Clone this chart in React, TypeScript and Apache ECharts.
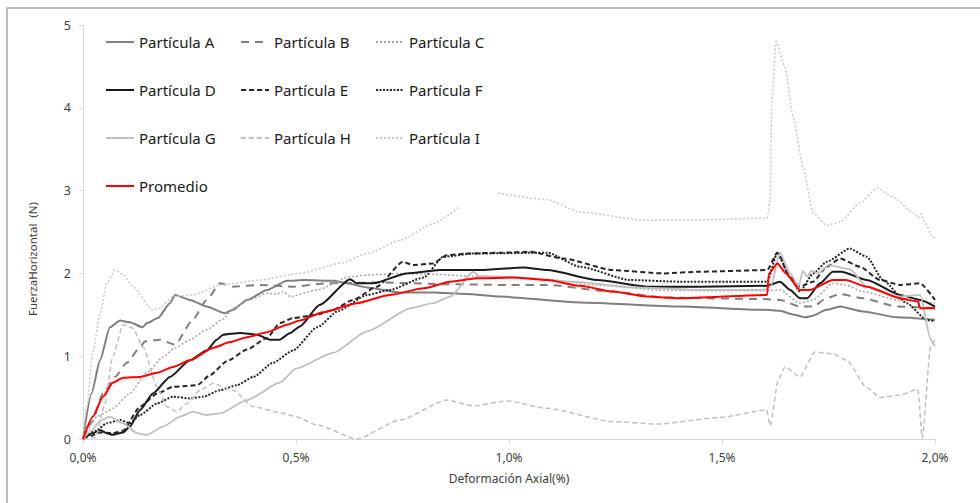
import React, { useEffect, useRef } from "react";
import * as echarts from "echarts";

type P = [number, number | null];

const xTicks = [0, 0.5, 1.0, 1.5, 2.0];
const yTicks = [0, 1, 2, 3, 4, 5];

const particulaA: P[] = [[0,0],[0.02,0.55],[0.04,0.95],[0.063,1.35],[0.087,1.43],[0.11,1.41],[0.14,1.35],[0.15,1.4],[0.176,1.46],[0.204,1.64],[0.216,1.74],[0.251,1.68],[0.29,1.6],[0.333,1.52],[0.352,1.56],[0.385,1.68],[0.432,1.8],[0.479,1.91],[0.52,1.92],[0.587,1.91],[0.62,1.88],[0.667,1.83],[0.744,1.77],[0.822,1.77],[0.9,1.75],[0.979,1.72],[1.167,1.65],[1.401,1.6],[1.6,1.56],[1.636,1.55],[1.67,1.5],[1.695,1.47],[1.714,1.49],[1.745,1.56],[1.777,1.6],[1.831,1.54],[1.911,1.47],[2.0,1.44]];
const particulaB: P[] = [[0,0],[0.02,0.2],[0.047,0.55],[0.075,0.75],[0.103,0.92],[0.134,1.11],[0.146,1.18],[0.18,1.2],[0.216,1.14],[0.258,1.44],[0.29,1.68],[0.322,1.88],[0.352,1.84],[0.415,1.86],[0.493,1.84],[0.572,1.88],[0.7,1.89],[0.85,1.87],[1.0,1.86],[1.09,1.86],[1.244,1.78],[1.362,1.71],[1.45,1.7],[1.596,1.69],[1.636,1.68],[1.683,1.6],[1.714,1.6],[1.745,1.7],[1.777,1.75],[1.831,1.7],[1.911,1.6],[2.0,1.58]];
const particulaC: P[] = [[0,0],[0.033,0.27],[0.056,0.33],[0.07,0.37],[0.11,0.55],[0.15,0.8],[0.188,0.99],[0.216,1.1],[0.251,1.2],[0.29,1.32],[0.33,1.45],[0.352,1.58],[0.392,1.68],[0.432,1.76],[0.455,1.75],[0.47,1.78],[0.486,1.72],[0.549,1.8],[0.627,1.96],[0.667,1.98],[0.744,2.0],[0.822,1.99],[0.9,1.97],[0.979,1.95],[1.09,1.93],[1.2,1.86],[1.35,1.8],[1.45,1.79],[1.6,1.79],[1.636,1.8],[1.683,1.64],[1.714,1.68],[1.76,1.88],[1.79,1.86],[1.831,1.78],[1.911,1.68],[2.0,1.64]];
const particulaD: P[] = [[0,0],[0.023,0.07],[0.04,0.11],[0.056,0.07],[0.07,0.05],[0.094,0.08],[0.11,0.15],[0.134,0.35],[0.164,0.55],[0.204,0.75],[0.251,0.95],[0.29,1.07],[0.314,1.2],[0.329,1.26],[0.369,1.28],[0.408,1.26],[0.439,1.2],[0.462,1.2],[0.486,1.28],[0.509,1.36],[0.556,1.62],[0.627,1.93],[0.643,1.88],[0.681,1.88],[0.76,2.0],[0.838,2.04],[0.932,2.04],[1.033,2.07],[1.09,2.04],[1.207,1.92],[1.323,1.84],[1.448,1.84],[1.606,1.85],[1.636,1.9],[1.66,1.8],[1.683,1.7],[1.7,1.7],[1.73,1.88],[1.76,2.02],[1.78,2.02],[1.84,1.92],[1.918,1.74],[1.965,1.68],[2.0,1.6]];
const particulaE: P[] = [[0,0],[0.02,0.04],[0.04,0.08],[0.07,0.07],[0.094,0.1],[0.134,0.39],[0.174,0.55],[0.211,0.63],[0.244,0.64],[0.268,0.65],[0.298,0.77],[0.338,0.94],[0.385,1.08],[0.432,1.22],[0.462,1.4],[0.493,1.46],[0.549,1.5],[0.587,1.56],[0.634,1.68],[0.69,1.84],[0.751,2.14],[0.775,2.1],[0.822,2.12],[0.854,2.22],[0.9,2.24],[0.979,2.25],[1.05,2.26],[1.127,2.18],[1.244,2.04],[1.362,2.0],[1.448,2.02],[1.606,2.04],[1.63,2.25],[1.66,1.95],[1.683,1.84],[1.714,1.9],[1.746,2.08],[1.777,2.18],[1.824,2.08],[1.871,1.92],[1.918,1.86],[1.965,1.88],[2.0,1.68]];
const particulaF: P[] = [[0,0],[0.03,0.1],[0.056,0.19],[0.087,0.23],[0.11,0.19],[0.134,0.29],[0.174,0.43],[0.211,0.51],[0.251,0.49],[0.282,0.51],[0.322,0.59],[0.361,0.65],[0.4,0.75],[0.446,0.92],[0.493,1.07],[0.55,1.35],[0.6,1.55],[0.667,1.74],[0.72,1.8],[0.8,1.95],[0.845,2.2],[0.916,2.24],[1.09,2.25],[1.167,2.08],[1.284,1.92],[1.401,1.9],[1.606,1.9],[1.63,2.25],[1.66,1.95],[1.683,1.78],[1.714,2.0],[1.746,2.14],[1.8,2.3],[1.84,2.2],[1.878,1.92],[1.934,1.64],[1.98,1.44],[2.0,1.42]];
const particulaG: P[] = [[0,0],[0.02,0.1],[0.04,0.22],[0.063,0.27],[0.094,0.19],[0.127,0.07],[0.15,0.05],[0.188,0.15],[0.228,0.27],[0.258,0.33],[0.29,0.29],[0.322,0.31],[0.385,0.47],[0.462,0.68],[0.5,0.85],[0.587,1.04],[0.667,1.3],[0.77,1.58],[0.822,1.64],[0.862,1.72],[0.916,2.02],[0.93,1.97],[1.03,1.95],[1.15,1.9],[1.3,1.83],[1.45,1.8],[1.6,1.8],[1.615,1.85],[1.636,2.25],[1.66,2.0],[1.68,1.85],[1.69,2.03],[1.7,1.96],[1.71,2.03],[1.725,2.0],[1.75,2.1],[1.8,2.05],[1.84,1.84],[1.918,1.72],[1.965,1.74],[1.99,1.2],[2.0,1.12]];
const particulaH: P[] = [[0,0],[0.03,0.02],[0.05,0.4],[0.07,1.0],[0.094,1.38],[0.117,1.34],[0.141,1.11],[0.174,0.63],[0.197,0.39],[0.22,0.33],[0.244,0.43],[0.275,0.59],[0.305,0.67],[0.352,0.59],[0.4,0.39],[0.47,0.31],[0.5,0.27],[0.549,0.17],[0.643,0.0],[0.744,0.23],[0.854,0.47],[0.916,0.4],[0.995,0.46],[1.09,0.37],[1.244,0.21],[1.347,0.18],[1.495,0.26],[1.605,0.35],[1.613,0.16],[1.632,0.71],[1.648,0.87],[1.683,0.75],[1.718,1.05],[1.76,1.03],[1.793,0.95],[1.84,0.62],[1.871,0.5],[1.918,0.53],[1.96,0.6],[1.97,0.01],[1.99,1.13],[2.0,1.2]];
const particulaI: P[] = [[0,0],[0.009,0.39],[0.023,1.04],[0.04,1.52],[0.056,1.88],[0.075,2.04],[0.095,1.98],[0.117,1.84],[0.162,1.56],[0.18,1.58],[0.211,1.72],[0.258,1.74],[0.322,1.86],[0.415,1.92],[0.509,2.0],[0.61,2.13],[0.667,2.24],[0.744,2.4],[0.822,2.6],[0.885,2.81],[0.93,null],[0.975,2.97],[1.09,2.89],[1.167,2.74],[1.323,2.64],[1.479,2.65],[1.606,2.67],[1.613,2.89],[1.617,4.1],[1.627,4.8],[1.648,4.49],[1.667,3.89],[1.69,3.29],[1.714,2.73],[1.746,2.58],[1.777,2.62],[1.824,2.85],[1.864,3.03],[1.902,2.92],[1.95,2.73],[1.962,2.67],[1.967,2.72],[1.975,2.62],[1.995,2.44],[2.0,2.43]];
const promedio: P[] = [[0,0],[0.023,0.27],[0.047,0.51],[0.07,0.68],[0.094,0.74],[0.134,0.75],[0.174,0.8],[0.211,0.87],[0.251,0.95],[0.305,1.1],[0.345,1.17],[0.385,1.23],[0.432,1.29],[0.479,1.38],[0.509,1.43],[0.563,1.53],[0.643,1.64],[0.72,1.74],[0.8,1.82],[0.862,1.9],[0.924,1.94],[1.01,1.95],[1.09,1.92],[1.167,1.85],[1.244,1.78],[1.323,1.72],[1.401,1.7],[1.606,1.74],[1.61,2.0],[1.63,2.12],[1.65,2.0],[1.683,1.8],[1.707,1.8],[1.76,1.92],[1.79,1.92],[1.84,1.84],[1.918,1.7],[1.96,1.66],[1.965,1.58],[2.0,1.58]];

const seriesNames = ["Partícula A","Partícula B","Partícula C","Partícula D","Partícula E","Partícula F","Partícula G","Partícula H","Partícula I","Promedio"];
const seriesData = [particulaA, particulaB, particulaC, particulaD, particulaE, particulaF, particulaG, particulaH, particulaI, promedio];

const styles: { color: string; width: number; type: any }[] = [
  { color: "#7f7f7f", width: 2, type: "solid" },
  { color: "#7f7f7f", width: 2, type: [8, 6] },
  { color: "#a6a6a6", width: 1.5, type: [2, 2] },
  { color: "#1a1a1a", width: 2, type: "solid" },
  { color: "#262626", width: 2, type: [5, 3] },
  { color: "#262626", width: 2, type: [2, 1.5] },
  { color: "#bfbfbf", width: 1.8, type: "solid" },
  { color: "#bfbfbf", width: 1.5, type: [5, 3] },
  { color: "#c8c8c8", width: 1.5, type: [2, 2] },
  { color: "#ff0000", width: 2, type: "solid" },
];

const FONT = "'Noto Sans', sans-serif";

export default function App() {
  const ref = useRef<HTMLDivElement>(null);
  useEffect(() => {
    document.body.style.margin = "0";
    const chart = echarts.init(ref.current!, null, { renderer: "svg" });
    const legendBase = {
      orient: "vertical",
      top: 34,
      padding: 0,
      itemWidth: 28,
      itemHeight: 14,
      itemGap: 32,
      selectedMode: false,
      itemStyle: { opacity: 0, borderWidth: 0 },
      textStyle: { fontFamily: FONT, fontSize: 15, color: "#1a1a1a", lineHeight: 16 },
    };
    chart.setOption({
      animation: false,
      backgroundColor: "#ffffff",
      textStyle: { fontFamily: FONT },
      grid: { left: 83, right: 45, top: 25, bottom: 64, containLabel: false },
      legend: [
        { ...legendBase, left: 105, data: ["Partícula A", "Partícula D", "Partícula G", "Promedio"] },
        { ...legendBase, left: 240, data: ["Partícula B", "Partícula E", "Partícula H"] },
        { ...legendBase, left: 375, data: ["Partícula C", "Partícula F", "Partícula I"] },
      ],
      xAxis: {
        type: "value",
        min: xTicks[0],
        max: xTicks[xTicks.length - 1],
        interval: 0.5,
        name: "Deformación Axial(%)",
        nameLocation: "middle",
        nameGap: 33,
        nameTextStyle: { fontFamily: FONT, fontSize: 12, color: "#404040" },
        axisLine: { show: true, lineStyle: { color: "#d9d9d9", width: 1 } },
        axisTick: { show: true, length: 5, lineStyle: { color: "#d9d9d9" } },
        splitLine: { show: false },
        axisLabel: {
          margin: 12,
          fontFamily: FONT,
          fontSize: 12,
          color: "#404040",
          formatter: (v: number) => v.toFixed(1).replace(".", ",") + "%",
        },
      },
      yAxis: {
        type: "value",
        min: yTicks[0],
        max: yTicks[yTicks.length - 1],
        interval: 1,
        axisLine: { show: true, lineStyle: { color: "#d9d9d9", width: 1 } },
        axisTick: { show: true, length: 4, lineStyle: { color: "#d9d9d9" } },
        splitLine: { show: false },
        axisLabel: { margin: 12, fontFamily: FONT, fontSize: 12.5, color: "#404040" },
      },
      graphic: [
        {
          type: "rect",
          silent: true,
          z: -10,
          shape: { x: 7, y: 8, width: 1200, height: 800 },
          style: { fill: "none", stroke: "#a6a6a6", lineWidth: 1.5 },
        },
        {
          type: "text",
          silent: true,
          x: 32,
          y: 259,
          rotation: Math.PI / 2,
          style: {
            text: "FuerzaHorizontal  (N)",
            font: "11.5px 'Noto Sans', sans-serif",
            fill: "#404040",
            align: "center",
            verticalAlign: "middle",
          },
        },
      ],
      series: seriesNames.map((name, i) => ({
        name,
        type: "line",
        data: seriesData[i],
        showSymbol: false,
        symbol: "none",
        smooth: 0.2,
        smoothMonotone: "x",
        connectNulls: false,
        lineStyle: { color: styles[i].color, width: styles[i].width, type: styles[i].type },
        itemStyle: { color: styles[i].color },
        z: i === 9 ? 5 : 2,
      })),
    });
    return () => chart.dispose();
  }, []);
  return <div ref={ref} style={{ width: 980, height: 503 }} />;
}
